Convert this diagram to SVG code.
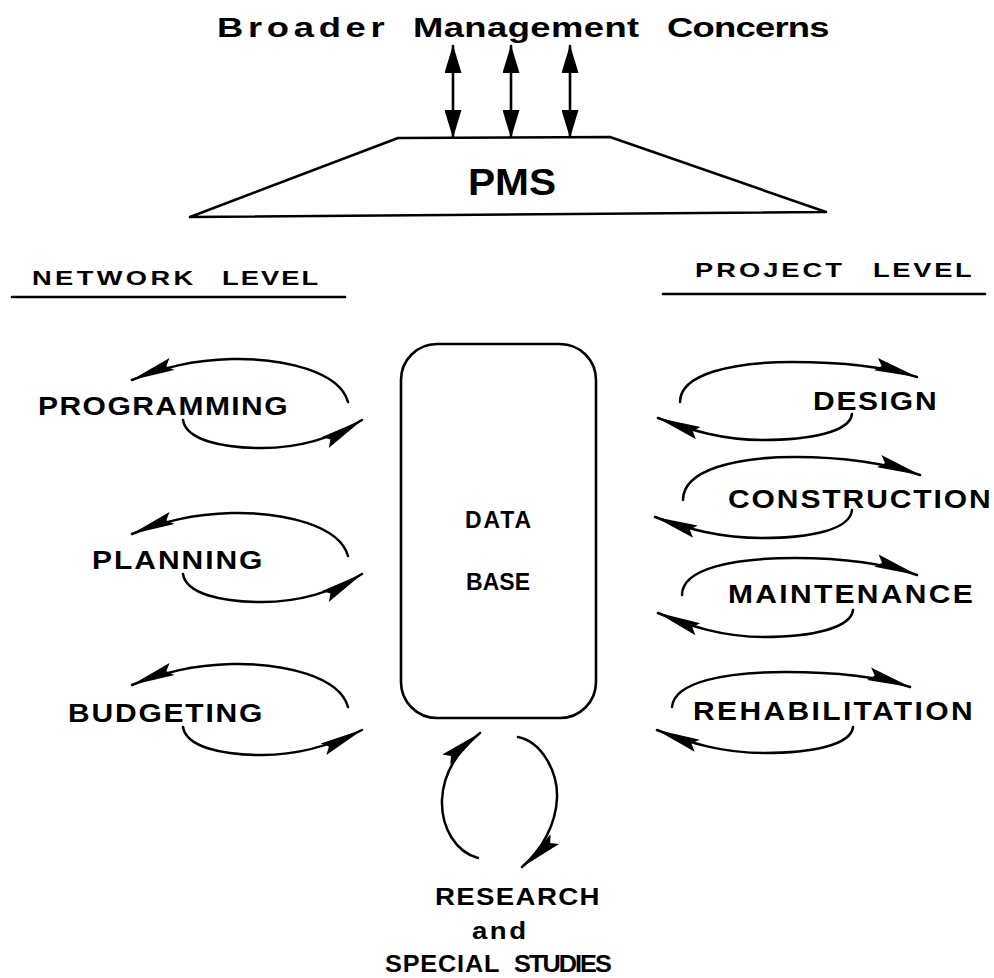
<svg xmlns="http://www.w3.org/2000/svg" width="994" height="978" viewBox="0 0 994 978">
  <style>
    .lbl { font-family: "Liberation Sans", Arial, sans-serif; font-weight: bold; fill: #000; }
    .ln { fill: none; stroke: #000; stroke-width: 2.6; stroke-linecap: round; stroke-linejoin: round; }
    .loop { fill: none; stroke: #000; stroke-width: 2.5; stroke-linecap: round; }
  </style>
  <defs>
    <marker id="dbl" markerUnits="userSpaceOnUse" markerWidth="28" markerHeight="17" viewBox="0 0 28 17" refX="27" refY="8.5" orient="auto-start-reverse">
      <path d="M0,0 L28,8.5 L0,17 z" fill="#000"/>
    </marker>
    <marker id="barb" markerUnits="userSpaceOnUse" markerWidth="44" markerHeight="15" viewBox="0 0 44 15" refX="43" refY="7.5" orient="auto">
      <path d="M0,1 L44,7.5 L0,14 L6,7.5 z" fill="#000"/>
    </marker>
  </defs>
  <rect width="994" height="978" fill="#fff"/>

  <!-- top-level labels -->
  <g id="concerns">
    <text class="lbl" transform="translate(217,37) scale(1.3,1)" font-size="28" textLength="129" lengthAdjust="spacing">Broader</text>
    <text class="lbl" transform="translate(413,37) scale(1.3,1)" font-size="28" textLength="174" lengthAdjust="spacing">Management</text>
    <text class="lbl" transform="translate(667,37) scale(1.3,1)" font-size="28" textLength="125" lengthAdjust="spacing">Concerns</text>
  </g>

  <g id="pms">
    <polygon class="ln" points="190,217 398,138 610,137 826,212"/>
    <text class="lbl" transform="translate(512,195) scale(1.1,1)" font-size="37" text-anchor="middle">PMS</text>
  </g>

  <g id="network-level">
    <text class="lbl" transform="translate(32,285) scale(1.3,1)" font-size="21" textLength="124" lengthAdjust="spacing">NETWORK</text>
    <text class="lbl" transform="translate(222,285) scale(1.3,1)" font-size="21" textLength="74" lengthAdjust="spacing">LEVEL</text>
    <line class="ln" x1="12" y1="297" x2="345" y2="297"/>
  </g>
  <g id="project-level">
    <text class="lbl" transform="translate(695,277) scale(1.3,1)" font-size="21" textLength="113" lengthAdjust="spacing">PROJECT</text>
    <text class="lbl" transform="translate(873,277) scale(1.3,1)" font-size="21" textLength="76" lengthAdjust="spacing">LEVEL</text>
    <line class="ln" x1="663" y1="294" x2="985" y2="294"/>
  </g>

  <g id="database">
    <rect class="ln" x="401" y="344" width="195" height="374" rx="36" ry="36"/>
    <text class="lbl" x="465" y="528" font-size="23" textLength="66" lengthAdjust="spacing">DATA</text>
    <text class="lbl" x="466" y="590" font-size="23" textLength="64" lengthAdjust="spacing">BASE</text>
  </g>

  <!-- network-level activities -->
  <g id="programming">
    <text class="lbl" transform="translate(38,415) scale(1.2,1)" font-size="25" textLength="208" lengthAdjust="spacing">PROGRAMMING</text>
  </g>
  <g id="planning">
    <text class="lbl" transform="translate(92,569) scale(1.2,1)" font-size="25" textLength="142" lengthAdjust="spacing">PLANNING</text>
  </g>
  <g id="budgeting">
    <text class="lbl" transform="translate(68,722) scale(1.2,1)" font-size="25" textLength="162" lengthAdjust="spacing">BUDGETING</text>
  </g>

  <!-- project-level activities -->
  <g id="design">
    <text class="lbl" transform="translate(813,410) scale(1.2,1)" font-size="25" textLength="103" lengthAdjust="spacing">DESIGN</text>
  </g>
  <g id="construction">
    <text class="lbl" transform="translate(728,508) scale(1.2,1)" font-size="25" textLength="219" lengthAdjust="spacing">CONSTRUCTION</text>
  </g>
  <g id="maintenance">
    <text class="lbl" transform="translate(728,603) scale(1.2,1)" font-size="25" textLength="204" lengthAdjust="spacing">MAINTENANCE</text>
  </g>
  <g id="rehabilitation">
    <text class="lbl" transform="translate(693,720) scale(1.2,1)" font-size="25" textLength="233" lengthAdjust="spacing">REHABILITATION</text>
  </g>

  <g id="research">
    <text class="lbl" transform="translate(435,905) scale(1.15,1)" font-size="24" textLength="143" lengthAdjust="spacing">RESEARCH</text>
    <text class="lbl" transform="translate(472,939) scale(1.15,1)" font-size="24" textLength="47" lengthAdjust="spacing">and</text>
    <text class="lbl" transform="translate(385,972) scale(1.1,1)" font-size="23" textLength="104" lengthAdjust="spacing">SPECIAL</text>
    <text class="lbl" transform="translate(514,972) scale(1.1,1)" font-size="23" textLength="89" lengthAdjust="spacing">STUDIES</text>
  </g>

  <g id="connectors">
    <!-- PMS to broader concerns -->
    <line class="ln" x1="453" y1="46" x2="453" y2="137" marker-start="url(#dbl)" marker-end="url(#dbl)"/>
    <line class="ln" x1="511" y1="46" x2="511" y2="137" marker-start="url(#dbl)" marker-end="url(#dbl)"/>
    <line class="ln" x1="570" y1="46" x2="570" y2="137" marker-start="url(#dbl)" marker-end="url(#dbl)"/>

    <!-- network-level loops -->
    <g id="loop-programming">
      <path class="loop" d="M348,402 C340,372 285,358 232,359 C192,360 162,368 132,380" marker-end="url(#barb)"/>
      <path class="loop" d="M183,420 C186,440 222,448 262,448 C302,448 336,436 362,420" marker-end="url(#barb)"/>
    </g>
    <g id="loop-planning" transform="translate(0,154)">
      <path class="loop" d="M348,402 C340,372 285,358 232,359 C192,360 162,368 132,380" marker-end="url(#barb)"/>
      <path class="loop" d="M183,420 C186,440 222,448 262,448 C302,448 336,436 362,420" marker-end="url(#barb)"/>
    </g>
    <g id="loop-budgeting" transform="translate(0,305)">
      <path class="loop" d="M348,402 C340,372 285,358 232,359 C192,360 162,368 132,380" marker-end="url(#barb)"/>
      <path class="loop" d="M183,422 C186,442 222,450 262,450 C302,450 336,438 362,425" marker-end="url(#barb)"/>
    </g>

    <!-- project-level loops -->
    <g id="loop-design">
      <path class="loop" d="M680,402 C680,374 732,362 792,362 C842,362 882,366 917,377" marker-end="url(#barb)"/>
      <path class="loop" d="M852,414 C850,432 810,440 762,440 C722,440 690,430 658,418" marker-end="url(#barb)"/>
    </g>
    <g id="loop-construction">
      <path class="loop" d="M683,500 C683,470 735,457 795,457 C845,457 885,463 920,475" marker-end="url(#barb)"/>
      <path class="loop" d="M852,510 C850,530 810,538 762,538 C720,538 688,529 655,517" marker-end="url(#barb)"/>
    </g>
    <g id="loop-maintenance">
      <path class="loop" d="M682,595 C682,568 735,558 795,558 C845,558 883,563 917,575" marker-end="url(#barb)"/>
      <path class="loop" d="M853,610 C851,628 812,637 764,637 C722,637 690,626 658,613" marker-end="url(#barb)"/>
    </g>
    <g id="loop-rehabilitation">
      <path class="loop" d="M672,707 C674,682 725,672 785,672 C835,672 876,676 910,687" marker-end="url(#barb)"/>
      <path class="loop" d="M853,727 C851,745 812,753 764,753 C722,753 690,743 657,730" marker-end="url(#barb)"/>
    </g>

    <!-- research loop -->
    <g id="loop-research">
      <path class="loop" d="M478,858 C456,852 441,828 442,800 C443,775 456,752 480,733" marker-end="url(#barb)"/>
      <path class="loop" d="M518,737 C542,742 558,772 557,798 C556,824 542,850 522,867" marker-end="url(#barb)"/>
    </g>
  </g>
</svg>
